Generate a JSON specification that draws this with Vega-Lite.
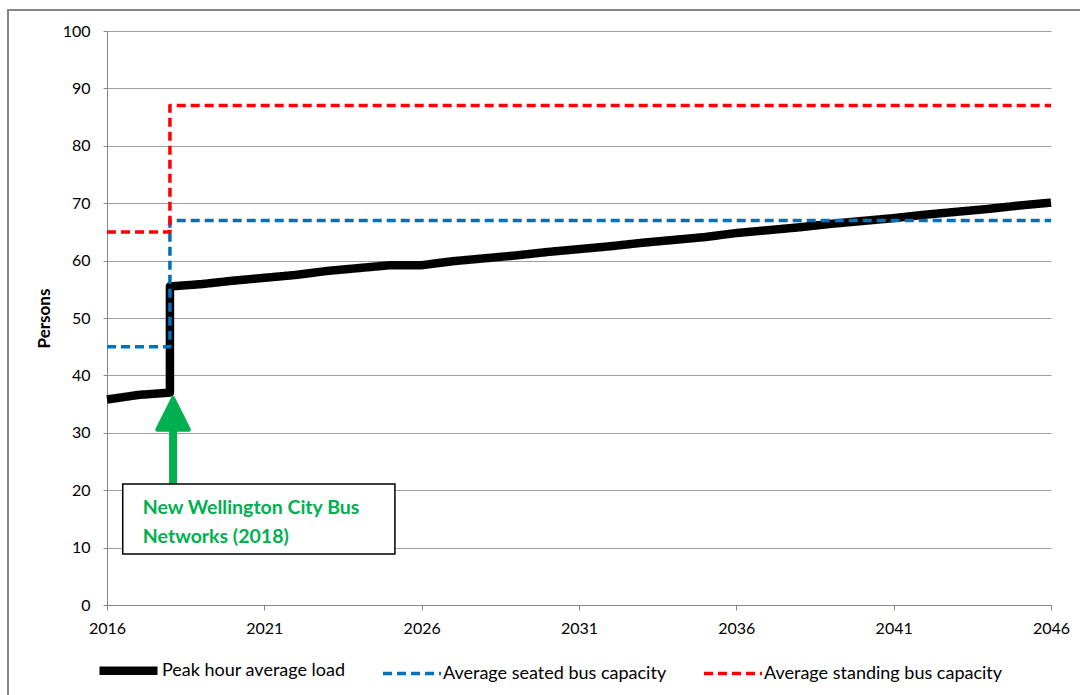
{
  "$schema": "https://vega.github.io/schema/vega-lite/v6.json",
  "width": 944,
  "height": 574,
  "autosize": {"type": "none"},
  "padding": {"left": 107, "top": 31, "right": 29, "bottom": 90},
  "background": "white",
  "config": {
    "view": {"stroke": null},
    "font": "Lato",
    "axis": {
      "labelFont": "Lato",
      "labelFontSize": 16,
      "labelFontWeight": "normal",
      "labelColor": "#000000",
      "domainColor": "#868686",
      "tickColor": "#868686",
      "gridColor": "#a0a0a0",
      "titleFont": "Lato"
    },
    "legend": {"labelFont": "Lato", "labelFontSize": 18, "labelColor": "#000000", "labelLimit": 400}
  },
  "datasets": {
    "series": [
      {"series": "Peak hour average load", "ord": 0, "year": 2016, "value": 35.8},
      {"series": "Peak hour average load", "ord": 1, "year": 2017, "value": 36.6},
      {"series": "Peak hour average load", "ord": 2, "year": 2018, "value": 37.0},
      {"series": "Peak hour average load", "ord": 3, "year": 2018, "value": 55.5},
      {"series": "Peak hour average load", "ord": 4, "year": 2019, "value": 55.9},
      {"series": "Peak hour average load", "ord": 5, "year": 2020, "value": 56.5},
      {"series": "Peak hour average load", "ord": 6, "year": 2021, "value": 57.0},
      {"series": "Peak hour average load", "ord": 7, "year": 2022, "value": 57.5},
      {"series": "Peak hour average load", "ord": 8, "year": 2023, "value": 58.2},
      {"series": "Peak hour average load", "ord": 9, "year": 2024, "value": 58.7},
      {"series": "Peak hour average load", "ord": 10, "year": 2025, "value": 59.2},
      {"series": "Peak hour average load", "ord": 11, "year": 2026, "value": 59.2},
      {"series": "Peak hour average load", "ord": 12, "year": 2027, "value": 59.9},
      {"series": "Peak hour average load", "ord": 13, "year": 2028, "value": 60.4},
      {"series": "Peak hour average load", "ord": 14, "year": 2029, "value": 60.9},
      {"series": "Peak hour average load", "ord": 15, "year": 2030, "value": 61.5},
      {"series": "Peak hour average load", "ord": 16, "year": 2031, "value": 62.0},
      {"series": "Peak hour average load", "ord": 17, "year": 2032, "value": 62.5},
      {"series": "Peak hour average load", "ord": 18, "year": 2033, "value": 63.1},
      {"series": "Peak hour average load", "ord": 19, "year": 2034, "value": 63.6},
      {"series": "Peak hour average load", "ord": 20, "year": 2035, "value": 64.1},
      {"series": "Peak hour average load", "ord": 21, "year": 2036, "value": 64.8},
      {"series": "Peak hour average load", "ord": 22, "year": 2037, "value": 65.3},
      {"series": "Peak hour average load", "ord": 23, "year": 2038, "value": 65.8},
      {"series": "Peak hour average load", "ord": 24, "year": 2039, "value": 66.4},
      {"series": "Peak hour average load", "ord": 25, "year": 2040, "value": 66.9},
      {"series": "Peak hour average load", "ord": 26, "year": 2041, "value": 67.4},
      {"series": "Peak hour average load", "ord": 27, "year": 2042, "value": 68.0},
      {"series": "Peak hour average load", "ord": 28, "year": 2043, "value": 68.5},
      {"series": "Peak hour average load", "ord": 29, "year": 2044, "value": 69.0},
      {"series": "Peak hour average load", "ord": 30, "year": 2045, "value": 69.6},
      {"series": "Peak hour average load", "ord": 31, "year": 2046, "value": 70.1},
      {"series": "Average seated bus capacity", "ord": 0, "year": 2016, "value": 45},
      {"series": "Average seated bus capacity", "ord": 1, "year": 2018, "value": 45},
      {"series": "Average seated bus capacity", "ord": 2, "year": 2018, "value": 67},
      {"series": "Average seated bus capacity", "ord": 3, "year": 2046, "value": 67},
      {"series": "Average standing bus capacity", "ord": 0, "year": 2016, "value": 65},
      {"series": "Average standing bus capacity", "ord": 1, "year": 2018, "value": 65},
      {"series": "Average standing bus capacity", "ord": 2, "year": 2018, "value": 87},
      {"series": "Average standing bus capacity", "ord": 3, "year": 2046, "value": 87}
    ],
    "frame": [{"x": 2012.854, "x2": 2050, "y": 103.66, "y2": -20}],
    "box": [{"x": 2016.5, "x2": 2025.15, "y": 21.1, "y2": 8.9}],
    "shaft": [{"x": 2018.1, "y": 21.1, "y2": 31.5}],
    "head": [{"x": 2018.1, "y": 33.3}],
    "label": [
      {"x": 2017.14, "y": 16.9, "text": "New Wellington City Bus"},
      {"x": 2017.14, "y": 11.85, "text": "Networks (2018)"}
    ]
  },
  "layer": [
    {
      "data": {"name": "frame"},
      "mark": {"type": "rect", "fill": null, "stroke": "#868686", "strokeWidth": 2},
      "encoding": {
        "x": {"field": "x", "type": "quantitative", "scale": {"domain": [2016, 2046], "nice": false, "zero": false},
          "axis": {"values": [2016, 2021, 2026, 2031, 2036, 2041, 2046], "format": "d", "title": null, "grid": false, "tickSize": 5, "labelPadding": 10, "labelFlush": false}},
        "x2": {"field": "x2"},
        "y": {"field": "y", "type": "quantitative", "scale": {"domain": [0, 100], "nice": false, "zero": false},
          "axis": {"values": [0, 10, 20, 30, 40, 50, 60, 70, 80, 90, 100], "title": "Persons", "titleFontSize": 17, "titleFontWeight": "bold", "titlePadding": 9, "tickSize": 4, "labelPadding": 13, "grid": true}},
        "y2": {"field": "y2"}
      }
    },
    {
      "data": {"name": "series"},
      "mark": {"type": "line", "strokeJoin": "round", "strokeCap": "butt"},
      "encoding": {
        "x": {"field": "year", "type": "quantitative"},
        "y": {"field": "value", "type": "quantitative"},
        "order": {"field": "ord", "type": "quantitative"},
        "color": {"field": "series", "type": "nominal",
          "scale": {"domain": ["Peak hour average load", "Average seated bus capacity", "Average standing bus capacity"], "range": ["#000000", "#0070C0", "#FF0000"]},
          "legend": {"title": null, "orient": "none", "direction": "horizontal", "legendX": -12, "legendY": 606, "columnPadding": 30, "labelOffset": 0, "symbolType": "stroke", "symbolSize": 3364}},
        "strokeDash": {"field": "series", "type": "nominal",
          "scale": {"domain": ["Peak hour average load", "Average seated bus capacity", "Average standing bus capacity"], "range": [[1, 0], [9, 5], [9, 5]]},
          "legend": {"title": null, "orient": "none", "direction": "horizontal", "legendX": -12, "legendY": 606, "columnPadding": 30, "labelOffset": 0, "symbolType": "stroke", "symbolSize": 3364}},
        "strokeWidth": {"field": "series", "type": "nominal",
          "scale": {"type": "ordinal", "domain": ["Peak hour average load", "Average seated bus capacity", "Average standing bus capacity"], "range": [8.5, 3.5, 3.5]},
          "legend": {"title": null, "orient": "none", "direction": "horizontal", "legendX": -12, "legendY": 606, "columnPadding": 30, "labelOffset": 0, "symbolType": "stroke", "symbolSize": 3364}}
      }
    },
    {
      "data": {"name": "shaft"},
      "mark": {"type": "rule", "color": "#00B050", "strokeWidth": 8},
      "encoding": {
        "x": {"field": "x", "type": "quantitative"},
        "y": {"field": "y", "type": "quantitative"},
        "y2": {"field": "y2"}
      }
    },
    {
      "data": {"name": "head"},
      "mark": {"type": "point", "shape": "M0,-1L1,1L-1,1Z", "size": 1000, "filled": true, "fill": "#00B050", "stroke": "#00B050", "strokeWidth": 4, "strokeJoin": "round", "opacity": 1},
      "encoding": {
        "x": {"field": "x", "type": "quantitative"},
        "y": {"field": "y", "type": "quantitative"}
      }
    },
    {
      "data": {"name": "box"},
      "mark": {"type": "rect", "fill": "white", "stroke": "#000000", "strokeWidth": 1.5},
      "encoding": {
        "x": {"field": "x", "type": "quantitative"},
        "x2": {"field": "x2"},
        "y": {"field": "y", "type": "quantitative"},
        "y2": {"field": "y2"}
      }
    },
    {
      "data": {"name": "label"},
      "mark": {"type": "text", "align": "left", "baseline": "middle", "font": "Lato", "fontSize": 19.5, "fontWeight": "bold", "color": "#00B050"},
      "encoding": {
        "x": {"field": "x", "type": "quantitative"},
        "y": {"field": "y", "type": "quantitative"},
        "text": {"field": "text"}
      }
    }
  ]
}
